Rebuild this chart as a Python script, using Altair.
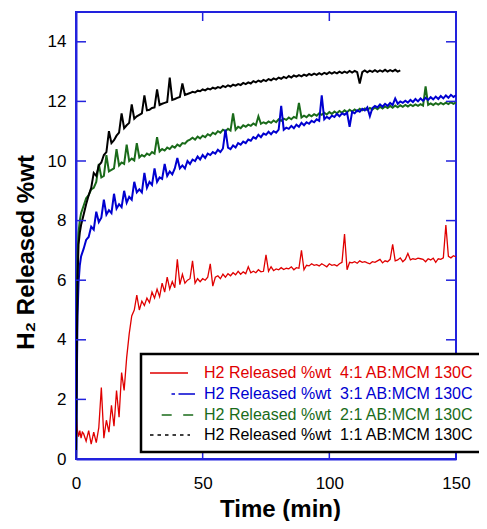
import altair as alt
import pandas as pd

# ---------------- data ----------------
series_names = ["4:1", "3:1", "2:1", "1:1"]
legend_labels = [
    "H2 Released %wt\u00a0 4:1 AB:MCM 130C",
    "H2 Released %wt\u00a0 3:1 AB:MCM 130C",
    "H2 Released %wt\u00a0 2:1 AB:MCM 130C",
    "H2 Released %wt\u00a0 1:1 AB:MCM 130C",
]
colors = ["#e00000", "#0000d0", "#1a6b1a", "#000000"]

x_ticks = [0, 50, 100, 150]
y_ticks = [0, 2, 4, 6, 8, 10, 12, 14]

red_t = [0, 0.5, 1, 1.5, 2, 2.5] + list(range(3, 151))
red_v = [1.6, 1.0, 0.75, 0.95, 0.7, 0.9,
         0.85, 0.6, 0.95, 0.5, 0.9, 0.55, 1.05, 2.4, 0.7, 1.3,
         0.9, 1.8, 1.1, 2.3, 1.4, 2.9, 2.3, 3.4, 4.2, 4.8,
         5.0, 5.5, 5.0, 5.3, 5.15, 5.4, 5.25, 5.6, 5.4, 5.7,
         5.45, 5.9, 5.6, 6.1, 5.7, 5.95, 5.75, 6.7, 5.85, 6.2,
         5.9, 6.0, 6.05, 6.65, 5.9, 6.05, 5.95, 6.05, 6.0, 6.1,
         6.55, 5.8, 6.1, 6.15, 6.05, 6.2, 6.1, 6.22, 6.15, 6.25,
         6.18, 6.3, 6.2, 6.28, 6.22, 6.45, 6.25, 6.3, 6.25, 6.35,
         6.28, 6.3, 6.85, 6.3, 6.45, 6.32, 6.38, 6.35, 6.42, 6.36,
         6.4, 6.38, 6.45, 6.35, 6.42, 6.4, 7.0, 6.35, 6.5, 6.48,
         6.55, 6.5, 6.52, 6.48, 6.55, 6.5, 6.45, 6.55, 6.5, 6.52,
         6.48, 6.55, 6.6, 7.55, 6.35, 6.6, 6.58, 6.62, 6.57, 6.65,
         6.6, 6.62, 6.58, 6.55, 6.62, 6.6, 6.65, 6.7, 6.58, 6.65,
         6.62, 6.7, 7.2, 6.65, 6.68, 6.75, 6.62, 6.7, 6.9, 6.68,
         6.72, 6.7, 6.74, 6.72, 6.7, 6.62, 6.72, 6.68, 6.74, 6.6,
         6.72, 6.7, 6.75, 7.85, 6.8, 6.75, 6.82, 6.78]

blue_t = [0, 0.3, 0.6, 1, 1.5, 2] + list(range(3, 151))
blue_v = [0.0, 2.5, 4.8, 5.9, 6.5, 6.8,
          7.05, 7.35, 7.45, 7.8, 7.7, 8.3, 7.95, 8.1, 8.7, 8.2,
          8.35, 8.25, 8.9, 8.4, 8.55, 8.45, 9.0, 8.6, 8.8, 8.7,
          9.3, 8.95, 9.05, 8.95, 9.6, 9.1, 9.3, 9.2, 9.75, 9.3,
          9.45, 9.4, 9.9, 9.5, 9.65, 9.55, 9.75, 10.1, 9.75, 9.85,
          9.75, 10.0, 9.9, 10.05, 10.0, 10.15, 10.05, 10.2, 10.1, 10.25,
          10.2, 10.3, 10.25, 10.38, 10.3, 10.42, 11.05, 10.45, 10.4, 10.52,
          10.45, 10.6, 10.55, 10.65, 10.6, 10.72, 10.68, 10.8, 10.75, 10.88,
          10.8, 10.92, 10.88, 10.98, 10.9, 11.0, 10.95, 11.05, 11.85, 11.05,
          11.12, 11.08, 11.18, 11.1, 11.22, 11.15, 11.28, 11.2, 11.3, 11.25,
          11.35, 11.3, 11.4, 11.35, 12.2, 11.4, 11.48, 11.42, 11.52, 11.48,
          11.58, 11.5, 11.6, 11.55, 11.62, 11.15, 11.65, 11.6, 11.7, 11.65,
          11.75, 11.7, 11.8, 11.5, 11.78, 11.85, 11.8, 11.9, 11.82, 11.92,
          11.85, 11.95, 11.88, 12.1, 11.92, 12.0, 11.95, 12.02, 11.96, 12.05,
          11.98, 12.08, 12.0, 12.1, 12.02, 12.12, 12.05, 12.14, 12.07, 12.16,
          12.08, 12.18, 12.1, 12.2, 12.12, 12.22, 12.15, 12.2]

green_t = [0, 0.3, 0.6, 1, 1.5, 2] + list(range(3, 151))
green_v = [0.0, 4.0, 6.8, 7.6, 8.0, 8.25,
           8.5, 8.75, 8.85, 9.05, 9.1, 9.3, 9.9, 9.45, 9.5, 10.2,
           9.65, 9.7, 9.75, 10.4, 9.85, 9.95, 9.9, 10.55, 10.0, 10.08,
           10.02, 10.6, 10.12, 10.2, 10.15, 10.25, 10.2, 10.3, 10.25, 10.8,
           10.32, 10.4, 10.35, 10.45, 10.4, 10.5, 10.45, 10.55, 10.5, 10.6,
           10.58, 10.68, 10.72, 10.78, 10.72, 10.82, 10.76, 10.85, 10.8, 10.9,
           10.85, 10.95, 10.9, 11.0, 10.95, 11.05, 11.0, 11.08, 11.02, 11.6,
           11.05, 11.15, 11.1, 11.2, 11.15, 11.22, 11.18, 11.26, 11.2, 11.5,
           11.25, 11.3, 11.26, 11.33, 11.28, 11.36, 11.3, 11.4, 11.35, 11.42,
           11.38, 11.46, 11.4, 11.48, 11.44, 11.95, 11.46, 11.52, 11.47, 11.55,
           11.5, 11.57, 11.52, 11.6, 11.55, 11.62, 11.56, 11.64, 11.58, 11.66,
           11.6, 11.68, 11.62, 11.7, 11.64, 11.72, 11.66, 11.73, 11.67, 11.75,
           11.7, 11.76, 11.71, 11.78, 11.73, 11.8, 11.74, 11.82, 11.76, 11.83,
           11.78, 11.85, 11.79, 11.86, 11.8, 11.87, 11.82, 11.88, 11.83, 11.89,
           11.84, 11.9, 11.85, 11.91, 11.86, 12.5, 11.88, 11.93, 11.88, 11.94,
           11.89, 11.95, 11.9, 11.96, 11.91, 11.97, 11.92, 11.97]

black_t = [0, 0.3, 0.6, 1, 1.5, 2] + list(range(3, 129))
black_v = [0.0, 3.5, 6.0, 7.2, 7.6, 7.85,
           8.2, 8.55, 8.85, 9.1, 9.6, 9.5, 9.85, 9.95, 10.2, 10.3,
           11.0, 10.6, 10.7, 10.85, 10.95, 11.6, 11.1, 11.2, 11.28, 11.9,
           11.42, 11.5, 11.55, 11.6, 12.2, 11.7, 11.72, 11.78, 11.8, 12.4,
           11.88, 11.92, 11.95, 11.98, 12.8, 12.05, 12.08, 12.12, 12.15, 12.6,
           12.22, 12.25, 12.28, 12.32, 12.3, 12.36, 12.34, 12.4, 12.37, 12.43,
           12.4, 12.46, 12.43, 12.48, 12.45, 12.52, 12.48, 12.54, 12.5, 12.56,
           12.53, 12.58, 12.55, 12.62, 12.58, 12.64, 12.6, 12.68, 12.64, 12.7,
           12.66, 12.72, 12.68, 12.75, 12.71, 12.77, 12.73, 12.8, 12.76, 12.82,
           12.78, 12.85, 12.8, 12.87, 12.83, 12.88, 12.84, 12.9, 12.86, 12.92,
           12.88, 12.93, 12.89, 12.95, 12.9, 12.96, 12.92, 12.98, 12.93, 12.98,
           12.94, 13.0, 12.95, 13.0, 12.96, 13.02, 12.97, 13.02, 12.98, 12.6,
           12.98, 13.04, 12.98, 13.03, 12.99, 13.05, 12.99, 13.04, 13.0, 13.06,
           13.0, 13.05, 13.01, 13.06, 13.0, 13.04]

# ---------------- chart ----------------
FONT = "Liberation Sans"
AXIS_BLUE = "#2222dd"
W, H = 380, 447

x_scale = alt.Scale(domain=[0, 150], nice=False, zero=False)
y_scale = alt.Scale(domain=[0, 15], nice=False, zero=False)

x_axis = alt.Axis(values=x_ticks, title="Time (min)", ticks=False, tickSize=0, grid=False,
                  domainColor=AXIS_BLUE, domainWidth=2, labelFont=FONT, labelFontSize=17,
                  labelColor="black", labelPadding=16, labelFlush=False, labelOverlap=False,
                  titleFont=FONT, titleFontSize=24, titleFontWeight="bold", titleColor="black",
                  titleX=204, titleY=57, titleBaseline="alphabetic", titleAlign="center")
y_axis = alt.Axis(values=y_ticks, title="H\u2082 Released %wt", ticks=False, tickSize=0, grid=False,
                  domainColor=AXIS_BLUE, domainWidth=2, labelFont=FONT, labelFontSize=17,
                  labelColor="black", labelPadding=10, labelFlush=False, labelOverlap=False,
                  titleFont=FONT, titleFontSize=24, titleFontWeight="bold", titleColor="black",
                  titleX=-43, titleY=240, titleAngle=270, titleBaseline="alphabetic",
                  titleAlign="center")

X = alt.X("t:Q", scale=x_scale, axis=x_axis)
Y = alt.Y("v:Q", scale=y_scale, axis=y_axis)

series = [(red_t, red_v), (blue_t, blue_v), (green_t, green_v), (black_t, black_v)]
widths = [1.3, 2.0, 2.0, 2.0]
draw_order = [0, 2, 1, 3]

layers = []
for i in draw_order:
    t, v = series[i]
    d = pd.DataFrame({"t": t, "v": v, "series": series_names[i]})
    layers.append(
        alt.Chart(d).mark_line(color=colors[i], strokeWidth=widths[i], clip=True).encode(x=X, y=Y)
    )

xt = pd.DataFrame({"t": x_ticks})
yt = pd.DataFrame({"v": y_ticks})
tick_style = dict(color=AXIS_BLUE, strokeWidth=1.5)
layers += [
    alt.Chart(xt).mark_rule(**tick_style).encode(x=X, y=alt.value(H), y2=alt.value(H - 9)),
    alt.Chart(xt).mark_rule(**tick_style).encode(x=X, y=alt.value(0), y2=alt.value(9)),
    alt.Chart(yt).mark_rule(**tick_style).encode(y=Y, x=alt.value(0), x2=alt.value(10)),
    alt.Chart(yt).mark_rule(**tick_style).encode(y=Y, x=alt.value(W - 10), x2=alt.value(W)),
]

# legend (drawn box, samples and labels)
one = pd.DataFrame({"k": [0]})
layers.append(
    alt.Chart(one).mark_rect(fill="white", stroke="black", strokeWidth=2.5).encode(
        x=alt.value(65), x2=alt.value(430), y=alt.value(342), y2=alt.value(440))
)
row_y = [361, 382, 403, 423]
sample_x = [(74, 112), (95.5, 119), (85.7, 119), (74, 114)]
dashes = [[1, 0], [3.5, 3.5, 17, 3], [10, 11.5], [3.5, 4]]
for i in range(4):
    x0, x1 = sample_x[i]
    layers.append(
        alt.Chart(one).mark_rule(color=colors[i], strokeWidth=1.5, strokeDash=dashes[i]).encode(
            x=alt.value(x0), x2=alt.value(x1), y=alt.value(row_y[i]))
    )
    ld = pd.DataFrame({"label": [legend_labels[i]]})
    layers.append(
        alt.Chart(ld).mark_text(align="left", baseline="middle", font=FONT, fontSize=16,
                                color=colors[i]).encode(
            text="label:N", x=alt.value(128), y=alt.value(row_y[i]))
    )

chart = alt.layer(*layers).properties(
    width=W, height=H,
    autosize=alt.AutoSizeParams(type="none"),
    padding={"left": 68, "top": 4, "right": 23, "bottom": 62},
).configure_view(stroke=AXIS_BLUE, strokeWidth=2)

chart.save("out.html", embed_options={"renderer": "svg", "actions": False})
